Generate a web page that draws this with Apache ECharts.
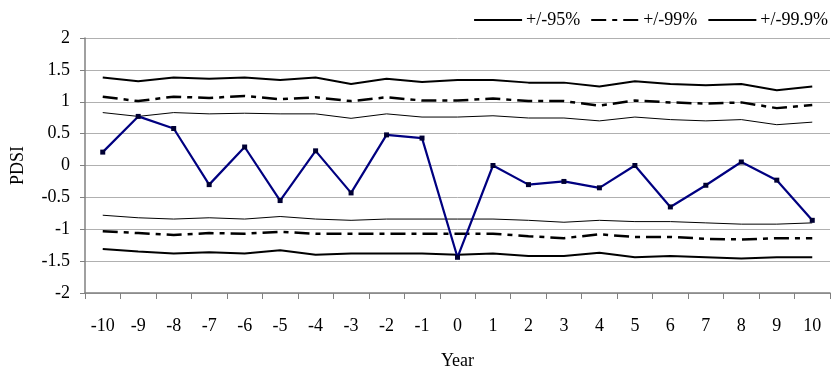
<!DOCTYPE html>
<html>
<head>
<meta charset="utf-8">
<script src="https://cdn.jsdelivr.net/npm/echarts@6/dist/echarts.min.js"></script>
<style>
  html, body { margin: 0; padding: 0; background: #fff; }
  #chart { width: 837px; height: 373px; }
</style>
</head>
<body>
<div id="chart"></div>
<script>
// Years relative to the event year
const years = ['-10','-9','-8','-7','-6','-5','-4','-3','-2','-1','0','1','2','3','4','5','6','7','8','9','10'];

// Mean PDSI
const pdsi = [0.21, 0.77, 0.58, -0.30, 0.29, -0.55, 0.23, -0.43, 0.48, 0.43, -1.44, 0.00, -0.30, -0.25, -0.35, 0.00, -0.65, -0.31, 0.055, -0.23, -0.86];

// Confidence bounds
const upper95  = [0.83, 0.77, 0.83, 0.81, 0.82, 0.81, 0.81, 0.74, 0.81, 0.76, 0.76, 0.78, 0.745, 0.745, 0.70, 0.76, 0.72, 0.70, 0.72, 0.64, 0.68];
const lower95  = [-0.78, -0.82, -0.84, -0.82, -0.84, -0.80, -0.84, -0.86, -0.84, -0.84, -0.84, -0.84, -0.86, -0.89, -0.86, -0.88, -0.88, -0.90, -0.92, -0.92, -0.90];
const upper99  = [1.08, 1.01, 1.08, 1.06, 1.09, 1.04, 1.07, 1.01, 1.07, 1.02, 1.02, 1.05, 1.01, 1.01, 0.94, 1.02, 0.99, 0.97, 0.99, 0.90, 0.95];
const lower99  = [-1.03, -1.06, -1.09, -1.06, -1.07, -1.04, -1.07, -1.07, -1.07, -1.07, -1.07, -1.07, -1.11, -1.14, -1.08, -1.12, -1.12, -1.15, -1.16, -1.14, -1.14];
const upper999 = [1.38, 1.32, 1.38, 1.36, 1.38, 1.34, 1.38, 1.28, 1.36, 1.31, 1.34, 1.34, 1.30, 1.30, 1.24, 1.32, 1.28, 1.26, 1.28, 1.18, 1.24];
const lower999 = [-1.31, -1.35, -1.38, -1.36, -1.38, -1.33, -1.40, -1.38, -1.38, -1.38, -1.40, -1.38, -1.42, -1.42, -1.37, -1.44, -1.42, -1.44, -1.46, -1.44, -1.44];

const legendNames = ['+/-95%', '+/-99%', '+/-99.9%'];

const FONT = '"Liberation Serif", "Times New Roman", serif';
const FS = 18;
const dashDot = [15, 6, 5, 6];

function band(name, data, width, type) {
  return {
    name: name,
    type: 'line',
    data: data,
    symbol: 'none',
    silent: true,
    itemStyle: { color: '#000' },
    lineStyle: { color: '#000', width: width, type: type },
    z: 2
  };
}

const chart = echarts.init(document.getElementById('chart'), null, { renderer: 'canvas' });
chart.setOption({
  animation: false,
  backgroundColor: '#fff',
  textStyle: { fontFamily: FONT, color: '#000' },
  grid: { left: 85, right: 7, top: 38, bottom: 80, outerBoundsMode: 'none', containLabel: false },
  legend: {
    data: legendNames,
    right: 4,
    top: 6,
    itemWidth: 48,
    itemHeight: 14,
    itemGap: 10,
    itemStyle: { opacity: 0 },
    textStyle: { fontFamily: FONT, fontSize: FS, color: '#000', padding: [0, 0, 0, -1] }
  },
  xAxis: {
    type: 'category',
    data: years,
    boundaryGap: true,
    name: 'Year',
    nameLocation: 'middle',
    nameGap: 59,
    nameTextStyle: { fontFamily: FONT, fontSize: FS, color: '#000' },
    axisLine: { onZero: false, lineStyle: { color: '#808080', width: 1.5 } },
    axisTick: { show: true, length: 6, inside: false, lineStyle: { color: '#808080' } },
    axisLabel: { fontFamily: FONT, fontSize: FS, color: '#000', margin: 24 },
    splitLine: { show: false }
  },
  yAxis: {
    type: 'value',
    min: -2,
    max: 2,
    interval: 0.5,
    name: 'PDSI',
    nameLocation: 'middle',
    nameGap: 58,
    nameRotate: 90,
    nameTextStyle: { fontFamily: FONT, fontSize: FS, color: '#000' },
    axisLine: { show: true, lineStyle: { color: '#808080', width: 1.5 } },
    axisTick: { show: true, length: 5, lineStyle: { color: '#808080' } },
    axisLabel: { fontFamily: FONT, fontSize: FS, color: '#000', margin: 15 },
    splitLine: { show: true, lineStyle: { color: '#b0b0b0', width: 1 } }
  },
  series: [
    band('+/-95%', upper95, 1, 'solid'),
    band('+/-95%', lower95, 1, 'solid'),
    band('+/-99%', upper99, 2.5, dashDot),
    band('+/-99%', lower99, 2.5, dashDot),
    band('+/-99.9%', upper999, 2, 'solid'),
    band('+/-99.9%', lower999, 2, 'solid'),
    {
      name: 'PDSI',
      type: 'line',
      data: pdsi,
      symbol: 'rect',
      symbolSize: 5,
      itemStyle: { color: '#000033' },
      lineStyle: { color: '#000080', width: 2.2 },
      z: 5
    }
  ]
});
</script>
</body>
</html>
